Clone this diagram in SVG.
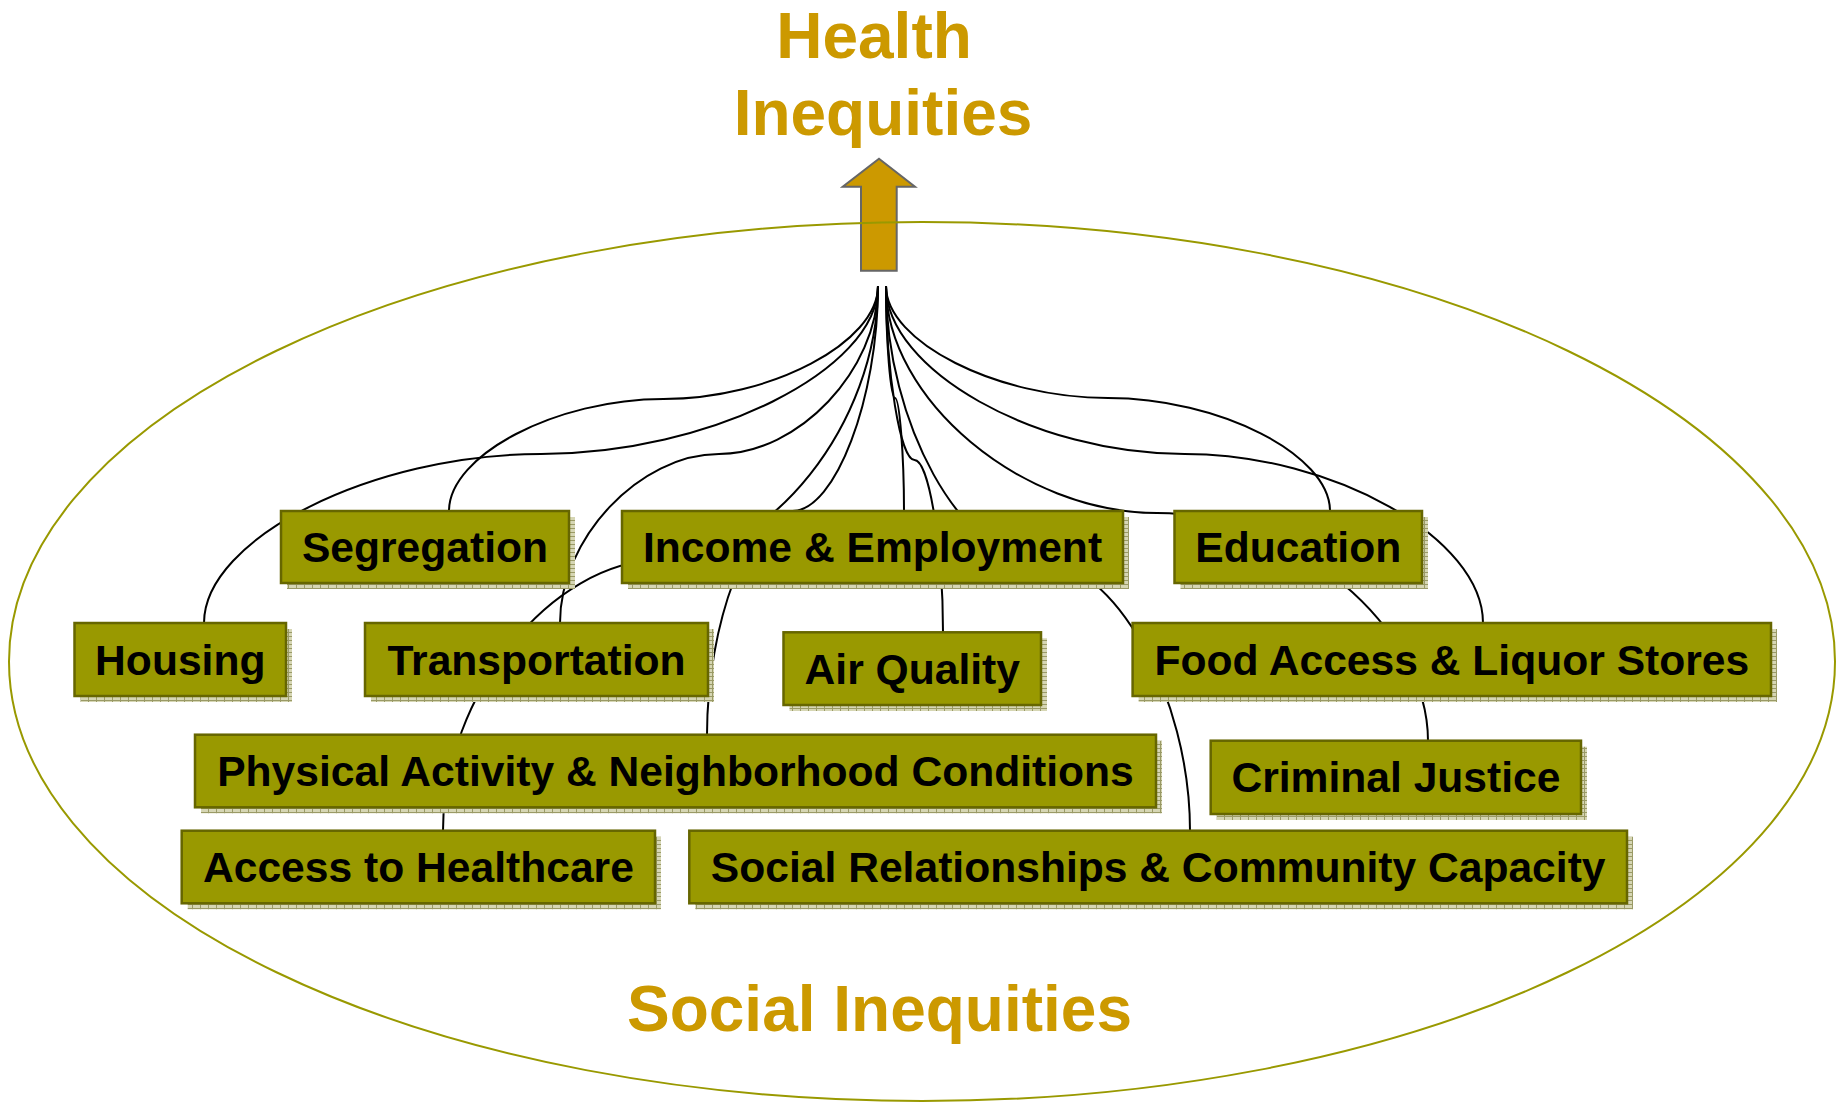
<svg xmlns="http://www.w3.org/2000/svg" width="1841" height="1102" viewBox="0 0 1841 1102">
<style>
.box{fill:#999900;stroke:#666600;stroke-width:2.5}
.sh{fill:url(#shp)}
.lbl{font-family:"Liberation Sans",Arial,sans-serif;font-weight:bold;font-size:42.6px;fill:#000;text-anchor:middle}
.ttl{font-family:"Liberation Sans",Arial,sans-serif;font-weight:bold;font-size:64px;fill:#CC9900;text-anchor:middle}
.cn{fill:none;stroke:#000;stroke-width:2}
</style>
<defs>
<pattern id="shp" width="8" height="4" patternUnits="userSpaceOnUse">
<rect width="8" height="4" fill="#d6d6b4"/>
<path d="M0 0.5H8M0.5 0V4" stroke="#9a9a66" stroke-width="1"/>
</pattern>
</defs>
<rect width="1841" height="1102" fill="#fff"/>

<g id="arrow">
<polygon points="879,158.7 915,186.7 896.7,186.7 896.7,270.7 861,270.7 861,186.7 842.7,186.7" fill="#CC9900" stroke="#666" stroke-width="2"/>
</g>

<g id="social-ellipse">
<ellipse cx="922" cy="661.5" rx="913" ry="439.5" fill="none" stroke="#999900" stroke-width="2"/>
</g>

<g id="connectors">
<path class="cn" d="M878,286 C878,342.5 770.8,399 663.5,399 C556.3,399 449,455 449,511"/>
<path class="cn" d="M878,286 C878,370 709.5,454 541,454 C372.5,454 204,538.5 204,623"/>
<path class="cn" d="M878,286 C878,370 798.5,454 719,454 C639.5,454 560,538.5 560,623"/>
<path class="cn" d="M878,286 C878,423 769.3,560 660.5,560 C551.8,560 443,695.5 443,831"/>
<path class="cn" d="M878,286 C878,398.5 835.3,511 792.5,511 C749.8,511 707,623 707,735"/>
<path class="cn" d="M886,286 C886,342 890.5,398 895,398 C899.5,398 904,454.5 904,511"/>
<path class="cn" d="M886,286 C886,373 900.3,460 914.5,460 C928.8,460 943,546 943,632"/>
<path class="cn" d="M886,286 C886,423 962,560 1038,560 C1114,560 1190,695.5 1190,831"/>
<path class="cn" d="M886,286 C886,399.5 1021.5,513 1157,513 C1292.5,513 1428,627 1428,741"/>
<path class="cn" d="M886,286 C886,342 997,398 1108,398 C1219,398 1330,454.5 1330,511"/>
<path class="cn" d="M886,286 C886,370 1035.3,454 1184.5,454 C1333.8,454 1483,538.5 1483,623"/>
</g>

<g id="segregation">
<rect class="sh" x="287" y="517" width="288" height="72"/>
<rect class="box" x="281" y="511" width="288" height="72"/>
<text class="lbl" x="425" y="562">Segregation</text>
</g>
<g id="income-employment">
<rect class="sh" x="628" y="517" width="501" height="72"/>
<rect class="box" x="622" y="511" width="501" height="72"/>
<text class="lbl" x="872.5" y="562">Income &amp; Employment</text>
</g>
<g id="education">
<rect class="sh" x="1180.5" y="517" width="247.5" height="72"/>
<rect class="box" x="1174.5" y="511" width="247.5" height="72"/>
<text class="lbl" x="1298.3" y="562">Education</text>
</g>
<g id="housing">
<rect class="sh" x="80.5" y="629" width="211.5" height="73"/>
<rect class="box" x="74.5" y="623" width="211.5" height="73"/>
<text class="lbl" x="180.3" y="674.5">Housing</text>
</g>
<g id="transportation">
<rect class="sh" x="371" y="629" width="343" height="73"/>
<rect class="box" x="365" y="623" width="343" height="73"/>
<text class="lbl" x="536.5" y="674.5">Transportation</text>
</g>
<g id="air-quality">
<rect class="sh" x="789.5" y="638.3" width="257.5" height="72.7"/>
<rect class="box" x="783.5" y="632.3" width="257.5" height="72.7"/>
<text class="lbl" x="912.3" y="683.7">Air Quality</text>
</g>
<g id="food-access">
<rect class="sh" x="1138.6" y="629" width="638.4" height="73"/>
<rect class="box" x="1132.6" y="623" width="638.4" height="73"/>
<text class="lbl" x="1451.8" y="674.5">Food Access &amp; Liquor Stores</text>
</g>
<g id="physical-activity">
<rect class="sh" x="201" y="740.7" width="961" height="72.6"/>
<rect class="box" x="195" y="734.7" width="961" height="72.6"/>
<text class="lbl" x="675.5" y="786">Physical Activity &amp; Neighborhood Conditions</text>
</g>
<g id="criminal-justice">
<rect class="sh" x="1216.7" y="746.7" width="370.3" height="73.3"/>
<rect class="box" x="1210.7" y="740.7" width="370.3" height="73.3"/>
<text class="lbl" x="1395.9" y="792.4">Criminal Justice</text>
</g>
<g id="access-healthcare">
<rect class="sh" x="187.7" y="836.7" width="473.3" height="72.6"/>
<rect class="box" x="181.7" y="830.7" width="473.3" height="72.6"/>
<text class="lbl" x="418.4" y="882">Access to Healthcare</text>
</g>
<g id="social-relationships">
<rect class="sh" x="695.3" y="836.7" width="937.7" height="72.6"/>
<rect class="box" x="689.3" y="830.7" width="937.7" height="72.6"/>
<text class="lbl" x="1158.2" y="882">Social Relationships &amp; Community Capacity</text>
</g>

<g id="titles">
<text class="ttl" x="874" y="58">Health</text>
<text class="ttl" x="883" y="135">Inequities</text>
<text class="ttl" x="879.5" y="1030.5">Social Inequities</text>
</g>
</svg>
